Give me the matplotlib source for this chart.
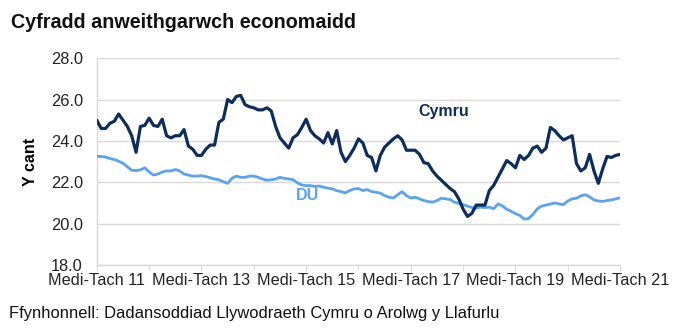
import matplotlib
matplotlib.use("Agg")
import matplotlib.pyplot as plt
import numpy as np

plt.rcParams.update({
    "font.family": ["Liberation Sans", "DejaVu Sans"],
    "font.size": 11,
})

# Rolling three-month periods, Sep-Nov 2011 to Sep-Nov 2021
cymru = [
    25.0, 24.6, 24.6, 24.85, 24.95, 25.3, 25.0, 24.7, 24.25, 23.45,
    24.7, 24.75, 25.1, 24.75, 24.7, 25.05, 24.25, 24.15, 24.25, 24.25,
    24.55, 23.75, 23.6, 23.3, 23.3, 23.6, 23.8, 23.8, 24.9, 25.05,
    26.0, 25.85, 26.15, 26.2, 25.75, 25.65, 25.6, 25.5, 25.5, 25.6,
    25.45, 24.7, 24.15, 23.9, 23.65, 24.15, 24.3, 24.65, 25.05, 24.5,
    24.25, 24.1, 23.9, 24.4, 23.85, 24.5, 23.45, 23.0, 23.3, 23.65,
    24.1, 23.9, 23.3, 23.2, 22.55, 23.3, 23.7, 23.9, 24.1, 24.25,
    24.05, 23.55, 23.55, 23.55, 23.35, 22.95, 22.9, 22.55, 22.3, 22.1,
    21.9, 21.7, 21.55, 21.2, 20.7, 20.35, 20.5, 20.9, 20.9, 20.9,
    21.6, 21.85, 22.25, 22.65, 23.05, 22.9, 22.7, 23.3, 23.1, 23.3,
    23.65, 23.75, 23.45, 23.65, 24.65, 24.5, 24.25, 24.05, 24.15, 24.25,
    22.9, 22.55, 22.7, 23.35, 22.55, 21.95, 22.65, 23.25, 23.2, 23.3,
    23.35,
]
du = [
    23.25, 23.25, 23.22, 23.15, 23.1, 23.02, 22.92, 22.75, 22.58, 22.57,
    22.6, 22.7, 22.5, 22.35, 22.4, 22.5, 22.55, 22.55, 22.62, 22.55,
    22.4, 22.35, 22.3, 22.3, 22.32, 22.28, 22.22, 22.16, 22.12, 22.03,
    21.95, 22.2, 22.3, 22.24, 22.24, 22.3, 22.3, 22.24, 22.16, 22.1,
    22.12, 22.16, 22.24, 22.19, 22.16, 22.13, 21.97, 21.87, 21.84, 21.84,
    21.8, 21.82, 21.76, 21.72, 21.68, 21.6, 21.55, 21.49, 21.6, 21.68,
    21.7, 21.6, 21.65, 21.55, 21.52, 21.48, 21.36, 21.28, 21.24, 21.4,
    21.55, 21.36, 21.24, 21.28, 21.2, 21.12, 21.07, 21.04, 21.12, 21.23,
    21.2, 21.17, 21.04, 20.98, 20.92, 20.85, 20.78, 20.76, 20.8, 20.78,
    20.8, 20.72, 20.96, 20.86, 20.7, 20.6, 20.48, 20.4, 20.22, 20.25,
    20.45, 20.72, 20.85, 20.9, 20.95, 21.0, 20.96, 20.92, 21.1, 21.2,
    21.23, 21.35, 21.4, 21.3, 21.15, 21.1, 21.08, 21.12, 21.15, 21.2,
    21.25,
]
tick_labels = ["Medi-Tach 11", "Medi-Tach 13", "Medi-Tach 15",
               "Medi-Tach 17", "Medi-Tach 19", "Medi-Tach 21"]

navy = "#0D2D5E"
light = "#5AA2F2"
grid_c = "#D9D9D9"
ink = "#111111"

x = np.arange(len(cymru))

fig = plt.figure(figsize=(6.77, 3.36), dpi=100)
ax = fig.add_axes([0.143, 0.211, 0.773, 0.616])

ax.plot(x, du, color=light, lw=2.0, solid_capstyle="round", zorder=3)
ax.plot(x, cymru, color=navy, lw=2.3, solid_capstyle="round", zorder=4)

ax.set_xlim(0, 120)
ax.set_ylim(18, 28)
yt = np.arange(18, 28.1, 2)
ax.set_yticks(yt)
ax.set_yticklabels([f"{v:.1f}" for v in yt], fontsize=11.8)
ax.set_xticks(np.arange(0, 121, 24))
ax.set_xticklabels(tick_labels, fontsize=11.7)
ax.set_xticks(np.arange(0, 121, 12), minor=True)

ax.grid(axis="y", color=grid_c, lw=1.0, zorder=0)
ax.set_axisbelow(True)
for side in ("top", "right"):
    ax.spines[side].set_visible(False)
for side in ("left", "bottom"):
    ax.spines[side].set_color(grid_c)
    ax.spines[side].set_linewidth(1.0)
ax.tick_params(axis="y", length=0, pad=10, colors="#222222")
ax.tick_params(axis="x", which="both", length=4, color=grid_c, pad=2, labelcolor="#222222")

ax.set_ylabel("Y cant", fontsize=11.5, fontweight="bold", labelpad=9)

# series labels placed beside the lines
ax.text(79.6, 25.4, "Cymru", color=navy, fontsize=11.5,
        fontweight="bold", ha="center", va="center")
ax.text(48.4, 21.38, "DU", color=light, fontsize=11.5,
        fontweight="bold", ha="center", va="center")

fig.text(0.016, 0.917, "Cyfradd anweithgarwch economaidd", fontsize=14.2,
         fontweight="bold", color=ink, ha="left", va="baseline")
fig.text(0.013, 0.068, "Ffynhonnell: Dadansoddiad Llywodraeth Cymru o Arolwg y Llafurlu",
         fontsize=11.9, color=ink, ha="left", va="center")

fig.savefig("out.png", dpi=100)
